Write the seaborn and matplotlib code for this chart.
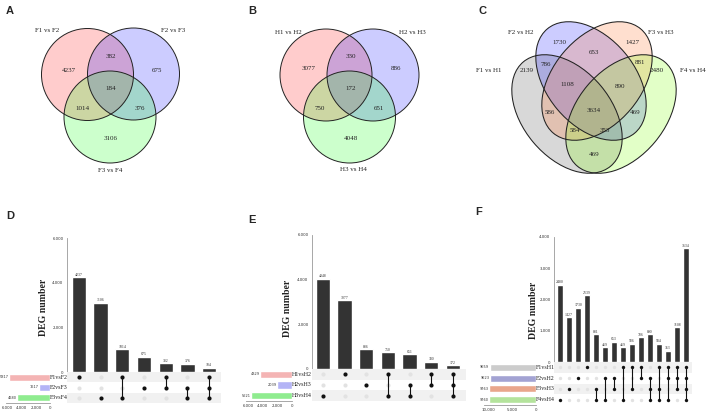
"""
Venn diagrams (A-C) and UpSet plots (D-F) of DEG overlaps
"""
import numpy as np
import pandas as pd
import matplotlib
matplotlib.use('Agg')
import matplotlib.pyplot as plt
import seaborn as sns
from matplotlib.patches import Circle, Ellipse

sns.set_style('white')
plt.rcParams['font.family'] = ['Liberation Serif', 'DejaVu Serif']

W, H = 708, 416

# ---------------- data ----------------
venn_a_sets = ['F1 vs F2', 'F2 vs F3', 'F3 vs F4']
venn_a_counts = [4237, 382, 675, 184, 1014, 376, 3106]
venn_b_sets = ['H1 vs H2', 'H2 vs H3', 'H3 vs H4']
venn_b_counts = [3077, 330, 886, 172, 750, 651, 4048]
venn_c_sets = ['F1 vs H1', 'F2 vs H2', 'F3 vs H3', 'F4 vs H4']
venn_c_counts = [1730, 1427, 653, 786, 881, 2139, 2480, 1108, 890,
                 3634, 586, 469, 584, 353, 469]

d_sets = ['F1vsF2', 'F2vsF3', 'F3vsF4']
d_set_sizes = [5817, 1617, 4680]
d_counts = [4237, 3106, 1014, 675, 382, 376, 184]
d_members = [[0], [2], [0, 2], [1], [0, 1], [1, 2], [0, 1, 2]]

e_sets = ['H1vsH2', 'H2vsH3', 'H3vsH4']
e_set_sizes = [4329, 2039, 5621]
e_counts = [4048, 3077, 886, 750, 651, 330, 172]
e_members = [[2], [0], [1], [0, 2], [1, 2], [0, 1], [0, 1, 2]]

f_sets = ['F1vsH1', 'F2vsH2', 'F3vsH3', 'F4vsH4']
f_set_sizes = [9659, 9623, 9763, 9760]
f_counts = [2480, 1427, 1730, 2139, 881, 469, 653, 469, 586, 786,
            890, 584, 353, 1108, 3634]
f_members = [[3], [2], [1], [0], [2, 3], [1, 3], [1, 2], [0, 3], [0, 2],
             [0, 1], [1, 2, 3], [0, 2, 3], [0, 1, 3], [0, 1, 2], [0, 1, 2, 3]]

# ---------------- layout (panel-local pixels) ----------------
venn3_text_pos_a = [(69, 70), (111, 57), (157, 70), (111, 88), (83, 109), (140, 109), (111, 138)]
venn3_label_pos_a = [(47, 30), (173, 30), (110, 170)]
venn3_circles_a = [(87.5, 74.5), (133.5, 74), (110, 117)]

venn3_text_pos_b = [(73, 69), (115, 57), (160, 69), (115, 88), (84, 109), (143, 109), (115, 138)]
venn3_label_pos_b = [(52, 32), (176, 32), (117, 169)]
venn3_circles_b = [(90, 75), (137, 75), (113.5, 117)]

venn4_text_pos = [(87, 42), (161, 42), (122, 53), (74, 65), (168, 63), (55, 70), (185, 70),
                  (95, 85), (148, 86), (122, 111), (78, 113), (163, 113), (103, 130),
                  (133, 130), (122, 154)]
venn4_label_pos = [(17, 70), (49, 33), (189, 33), (221, 70)]
venn4_ellipses = [((95, 114), 50), ((119, 81), 50), ((125, 81), -50), ((149, 114), -50)]
venn4_w, venn4_h = 136, 88

venn3_colors = ['#ff0000', '#0000ff', '#00ff00']
venn4_colors = ['#808080', '#0000ff', '#ff8040', '#7fff00']
venn4_alpha = [0.3, 0.2, 0.25, 0.22]


def px_axes(fig, left, top, right, bottom):
    return fig.add_axes([left / W, 1 - bottom / H, (right - left) / W, (bottom - top) / H])


def fig_text(fig, x, y, s, **kw):
    fig.text(x / W, 1 - y / H, s, **kw)


def venn_axes(fig, x0):
    ax = px_axes(fig, x0, 0, x0 + 236, 200)
    ax.set_xlim(0, 236)
    ax.set_ylim(200, 0)
    ax.axis('off')
    return ax


def draw_venn3(ax, names, counts, circles, text_pos, label_pos):
    for (cx, cy), col in zip(circles, venn3_colors):
        ax.add_patch(Circle((cx, cy), 46, facecolor=col, alpha=0.2, edgecolor='none'))
    for cx, cy in circles:
        ax.add_patch(Circle((cx, cy), 46, facecolor='none', edgecolor='#222222', lw=0.7))
    for (x, y), c in zip(text_pos, counts):
        ax.text(x, y, str(c), ha='center', va='center', fontsize=5, color='#222222')
    for (x, y), n in zip(label_pos, names):
        ax.text(x, y, n, ha='center', va='center', fontsize=5, color='#222222')


def draw_venn4(ax, names, counts):
    for ((cx, cy), ang), col, al in zip(venn4_ellipses, venn4_colors, venn4_alpha):
        ax.add_patch(Ellipse((cx, cy), venn4_w, venn4_h, angle=ang, facecolor=col,
                             alpha=al, edgecolor='none'))
    for (cx, cy), ang in venn4_ellipses:
        ax.add_patch(Ellipse((cx, cy), venn4_w, venn4_h, angle=ang, facecolor='none',
                             edgecolor='#222222', lw=0.75))
    for (x, y), c in zip(venn4_text_pos, counts):
        ax.text(x, y, str(c), ha='center', va='center', fontsize=5, color='#222222')
    for (x, y), n in zip(venn4_label_pos, names):
        ax.text(x, y, n, ha='center', va='center', fontsize=5, color='#222222')


def draw_upset(fig, sets, sizes, counts, members, colors, box):
    n_sets = len(sets)
    n_cols = len(counts)
    xlim = box['xlim']

    # intersection bars
    ax = px_axes(fig, box['left'], box['top'], box['right'], box['mid'])
    bars = pd.DataFrame({'col': np.arange(n_cols), 'count': counts})
    sns.barplot(data=bars, x='col', y='count', color='#333333', width=0.66,
                saturation=1, ax=ax)
    ax.set_xlim(*xlim)
    ax.set_ylim(0, box['ymax'])
    for i, c in enumerate(counts):
        ax.text(i, c + box['ymax'] * 0.004, str(c), ha='center', va='bottom',
                fontsize=2.8, color='#333333')
    ax.set_xticks([])
    ax.set_xlabel('')
    ax.set_ylabel('')
    ax.set_yticks(box['yticks'])
    ax.set_yticklabels([f'{t:,}' for t in box['yticks']], fontsize=2.8,
                       family='DejaVu Sans', color='#333333')
    ax.tick_params(axis='y', length=1.5, width=0.4, pad=1, color='#888888')
    for s in ['top', 'right', 'bottom']:
        ax.spines[s].set_visible(False)
    ax.spines['left'].set_color('#999999')
    ax.spines['left'].set_linewidth(0.6)

    # dot matrix
    axm = px_axes(fig, box['left'], box['mid'], box['right'], box['bottom'])
    for r in range(0, n_sets, 2):
        axm.axhspan(r - 0.5, r + 0.5, color='#f1f1f1', lw=0)
    cells = pd.DataFrame([(c, r, r in members[c]) for c in range(n_cols) for r in range(n_sets)],
                         columns=['col', 'row', 'active'])
    off = cells[~cells['active']]
    on = cells[cells['active']]
    sns.scatterplot(data=off, x='col', y='row', color='#e2e2e2', s=box['dot'],
                    linewidth=0, ax=axm)
    for c, m in enumerate(members):
        if len(m) > 1:
            axm.vlines(c, min(m), max(m), color='#111111', lw=0.8)
    sns.scatterplot(data=on, x='col', y='row', color='#111111', s=box['dot'],
                    linewidth=0, ax=axm, zorder=3)
    axm.set_xlim(*xlim)
    axm.set_ylim(n_sets - 0.5, -0.5)
    axm.axis('off')

    # set sizes
    axs = px_axes(fig, box['size_left'], box['mid'], box['size_right'], box['bottom'])
    sz = pd.DataFrame({'set': sets, 'size': sizes})
    sns.barplot(data=sz, x='size', y='set', hue='set', palette=colors, orient='h',
                width=0.66, saturation=1, legend=False, ax=axs)
    axs.set_xlim(box['size_max'], 0)
    axs.set_ylim(n_sets - 0.5, -0.5)
    for i, v in enumerate(sizes):
        axs.text(v + box['size_max'] * 0.01, i, str(v), ha='right', va='center',
                 fontsize=2.5, family='DejaVu Sans', color='#333333')
    axs.set_yticks([])
    axs.set_ylabel('')
    axs.set_xlabel('')
    axs.set_xticks(box['size_ticks'])
    axs.set_xticklabels([f'{t:,}' for t in box['size_ticks']], fontsize=2.8,
                        family='DejaVu Sans', color='#333333')
    axs.tick_params(axis='x', length=1.5, width=0.4, pad=1, color='#888888')
    for s in ['top', 'right', 'left']:
        axs.spines[s].set_visible(False)
    axs.spines['bottom'].set_color('#999999')
    axs.spines['bottom'].set_linewidth(0.6)

    # row labels and y label
    row_h = (box['bottom'] - box['mid']) / n_sets
    for i, name in enumerate(sets):
        fig_text(fig, box['label_x'], box['mid'] + row_h * (i + 0.5), name,
                 ha='center', va='center', fontsize=4.3, color='#222222')
    fig_text(fig, box['ylab'][0], box['ylab'][1], 'DEG number', rotation=90,
             ha='center', va='center', fontsize=7, fontweight='bold', color='#222222')


fig = plt.figure(figsize=(W / 100, H / 100), dpi=100)

ax_a = venn_axes(fig, 0)
draw_venn3(ax_a, venn_a_sets, venn_a_counts, venn3_circles_a, venn3_text_pos_a, venn3_label_pos_a)
ax_b = venn_axes(fig, 236)
draw_venn3(ax_b, venn_b_sets, venn_b_counts, venn3_circles_b, venn3_text_pos_b, venn3_label_pos_b)
ax_c = venn_axes(fig, 472)
draw_venn4(ax_c, venn_c_sets, venn_c_counts)

box_d = dict(left=67, right=221, top=238, mid=372, bottom=403, xlim=(-0.55, 6.55),
             ymax=6000, yticks=[0, 2000, 4000, 6000], size_left=6, size_right=50,
             size_max=6241, size_ticks=[6000, 4000, 2000, 0], dot=9, label_x=58.5,
             ylab=(43, 307))
box_e = dict(left=312, right=466, top=235, mid=369, bottom=401, xlim=(-0.5, 6.6),
             ymax=6000, yticks=[0, 2000, 4000, 6000], size_left=246, size_right=292,
             size_max=6273, size_ticks=[6000, 4000, 2000, 0], dot=9, label_x=301.5,
             ylab=(288, 308))
box_f = dict(left=554, right=692, top=237, mid=362, bottom=405, xlim=(-0.67, 14.67),
             ymax=4000, yticks=[0, 1000, 2000, 3000, 4000], size_left=484, size_right=536,
             size_max=10833, size_ticks=[10000, 5000, 0], dot=6, label_x=545.5,
             ylab=(534, 310))

draw_upset(fig, d_sets, d_set_sizes, d_counts, d_members,
           ['#f4b4b4', '#b4b4f6', '#8fec8f'], box_d)
draw_upset(fig, e_sets, e_set_sizes, e_counts, e_members,
           ['#f4b4b4', '#b4b4f6', '#8fec8f'], box_e)
draw_upset(fig, f_sets, f_set_sizes, f_counts, f_members,
           ['#cccccc', '#a3a3d3', '#e9a68c', '#b4e39c'], box_f)

for letter, (x, y) in zip('ABCDEF', [(6, 11), (248, 11), (478, 11), (6, 216), (248, 220), (475, 212)]):
    fig_text(fig, x, y, letter, ha='left', va='center', fontsize=8, fontweight='bold',
             family='Liberation Sans')

plt.savefig('out.png', dpi=100, facecolor='white')
